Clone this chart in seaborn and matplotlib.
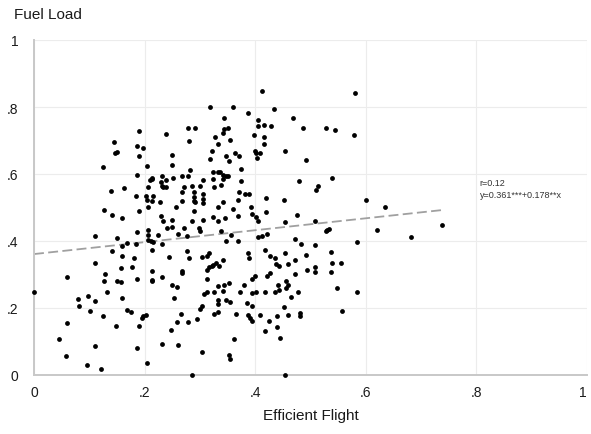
import numpy as np
import pandas as pd
import matplotlib
matplotlib.use("Agg")
import matplotlib.pyplot as plt
import seaborn as sns

# ---- data (Efficient Flight, Fuel Load) ----
ul_x = [.189,.238,.144,.186,.198,.146,.150,.189,.249,.124,.205,.249,.187,.231,.214,.209,.213,.238,.252,.229]
ul_y = [.728,.719,.696,.684,.678,.663,.666,.654,.657,.621,.624,.627,.597,.594,.588,.582,.585,.582,.588,.576]

um_x = [.412,.319,.359,.387,.434,.344,.405,.468,.279,.292,
        .344,.351,.342,.405,.416,.429,.486,.281,.328,.355,
        .398,.416,.416,.332,.321,.348,.364,.371,.400,.402,
        .409,.454,.319,.353,.404,.492,.283,.324,.333,.337,
        .342,.348,.351,.375,.267,.279,.305,.323,.342,.375,
        .479,.339]
um_y = [.848,.800,.800,.782,.794,.767,.761,.767,.737,.737,
        .734,.737,.722,.743,.746,.743,.737,.699,.710,.701,
        .716,.710,.690,.690,.669,.654,.663,.654,.669,.663,
        .663,.669,.645,.639,.648,.642,.612,.606,.606,.606,
        .597,.594,.594,.615,.594,.594,.582,.585,.585,.579,
        .579,.567]

ur_x = [.580,.528,.544,.578,.539]
ur_y = [.842,.737,.731,.716,.588]

ml_x = [.139,.162,.207,.231,.234,.238,.184,.202,.216,.205,
        .213,.227,.126,.189,.207,.141,.159,.229,.234,.240,
        .110,.150,.186,.207,.207,.225,.207,.211,.216,.169,
        .160,.184,.232,.141,.213,.159,.180,.110,.157,.177,
        .213,.232,.059,.128]
ml_y = [.549,.558,.561,.564,.561,.561,.534,.534,.534,.522,
        .519,.516,.493,.490,.501,.478,.469,.475,.460,.439,
        .415,.409,.427,.433,.418,.418,.403,.400,.397,.394,
        .385,.391,.391,.370,.373,.355,.349,.334,.319,.322,
        .310,.293,.293,.301]

mm_x = [.272,.286,.301,.326,.268,.290,.305,.371,.382,.389,
        .420,.452,.290,.290,.305,.305,.292,.267,.256,.332,
        .341,.368,.359,.393,.420,.290,.395,.368,.402,.405,
        .324,.333,.346,.476,.249,.249,.285,.305,.299,.301,
        .272,.277,.261,.339,.357,.405,.412,.422,.348,.368,
        .454,.472,.483,.454,.492,.245,.276,.281,.303,.312,
        .317,.342,.330,.335,.387,.389,.418,.427,.436,.438,
        .443,.459,.472,.494,.317,.321,.323,.312,.267,.268,
        .472,.400,.422,.427]
mm_y = [.561,.564,.564,.561,.546,.546,.540,.546,.540,.540,
        .528,.522,.531,.519,.525,.513,.516,.519,.501,.501,
        .516,.522,.496,.501,.487,.490,.481,.475,.472,.460,
        .472,.460,.469,.478,.463,.442,.460,.463,.439,.430,
        .439,.415,.421,.430,.418,.412,.415,.421,.400,.400,
        .457,.406,.391,.364,.358,.352,.370,.349,.352,.355,
        .364,.343,.334,.325,.364,.349,.373,.355,.349,.331,
        .325,.331,.343,.313,.322,.325,.328,.313,.310,.304,
        .301,.296,.296,.304]

mr_x = [.514,.510,.600,.634,.508,.528,.530,.533,.620,.737,
        .681,.584,.508,.537,.539,.555,.508,.508,.537]
mr_y = [.564,.552,.522,.501,.460,.430,.433,.436,.433,.448,
        .412,.397,.388,.367,.334,.334,.322,.307,.307]

ll_x = [.126,.150,.157,.186,.213,.214,0.0,.132,.079,.097,
        .110,.081,.101,.160,.169,.175,.124,.059,.148,.189,
        .195,.202,.198,.045,.110,.187,.232,.058,.095,.121,
        .205]
ll_y = [.281,.281,.278,.287,.281,.284,.248,.248,.227,.236,
        .221,.206,.191,.230,.194,.188,.176,.155,.146,.146,
        .170,.179,.176,.107,.087,.081,.093,.057,.030,.018,
        .036]

lm_x = [.249,.259,.254,.312,.332,.344,.353,.380,.395,.441,
        .456,.459,.456,.443,.436,.477,.465,.308,.312,.326,
        .341,.373,.395,.402,.418,.332,.332,.348,.355,.386,
        .395,.303,.301,.452,.265,.326,.332,.366,.387,.391,
        .395,.409,.425,.440,.459,.481,.481,.259,.279,.294,
        .247,.418,.440,.445,.362,.261,.303,.353,.355,.285,
        .454]
lm_y = [.269,.263,.230,.287,.266,.269,.275,.269,.287,.269,
        .281,.269,.260,.254,.248,.248,.233,.242,.248,.248,
        .251,.248,.245,.248,.248,.224,.212,.224,.218,.215,
        .206,.206,.197,.203,.182,.182,.188,.182,.179,.170,
        .161,.179,.161,.176,.179,.185,.176,.158,.158,.167,
        .134,.131,.143,.110,.107,.090,.069,.060,.048,0.0,
        0.0]

lr_x = [.548,.584,.557]
lr_y = [.260,.248,.191]

intercept = 0.361
slope = 0.178
r_value = 0.12

tick_values = [0, .2, .4, .6, .8, 1]
tick_labels = ["0", ".2", ".4", ".6", ".8", "1"]

efficient_flight = ul_x + um_x + ur_x + ml_x + mm_x + mr_x + ll_x + lm_x + lr_x
fuel_load = ul_y + um_y + ur_y + ml_y + mm_y + mr_y + ll_y + lm_y + lr_y

# ---- plotting ----
sns.set_theme(style="white")
plt.rcParams["font.family"] = ["Liberation Sans", "DejaVu Sans"]

W, H = 591, 435
fig = plt.figure(figsize=(W / 100, H / 100), dpi=100)
ax = fig.add_axes([34 / W, 1 - 376 / H, 553 / W, 335 / H])

df = pd.DataFrame({"Efficient Flight": efficient_flight, "Fuel Load": fuel_load})

ax.set_xlim(0, 1)
ax.set_ylim(0, 1)

xs = np.array([0.0, df["Efficient Flight"].max()])
ax.plot(xs, intercept + slope * xs, color="#a0a0a0", lw=1.3,
        ls=(0, (5.5, 2.4)), zorder=2)

sns.scatterplot(data=df, x="Efficient Flight", y="Fuel Load", ax=ax,
                s=12, color="black", linewidth=0, clip_on=False, zorder=3)

ax.set_xticks(tick_values)
ax.set_xticklabels(tick_labels)
ax.set_yticks(tick_values)
ax.set_yticklabels(tick_labels)
ax.tick_params(axis="both", length=0, labelsize=10, colors="#1a1a1a")
ax.tick_params(axis="x", pad=7)
ax.tick_params(axis="y", pad=11)
ax.get_xticklabels()[-1].set_horizontalalignment("right")

ax.grid(True, color="#ececec", lw=0.8)
ax.set_axisbelow(True)
for side in ["top", "right"]:
    ax.spines[side].set_visible(False)
for side in ["left", "bottom"]:
    ax.spines[side].set_color("#c8c8c8")
    ax.spines[side].set_linewidth(1.4)

ax.set_xlabel("Efficient Flight", fontsize=11, color="#1a1a1a")
ax.xaxis.set_label_coords(0.5, -0.098)
ax.set_ylabel("Fuel Load", fontsize=11, color="#1a1a1a", rotation=0,
              ha="left", va="top")
ax.yaxis.set_label_coords(-0.036, 1.098)

ax.text(0.806, 0.576, f"r={r_value:.2f}", fontsize=6.5, color="#333333",
        ha="left", va="center")
ax.text(0.806, 0.540, f"y={intercept:.3f}***+{slope:.3f}**x", fontsize=6.5,
        color="#333333", ha="left", va="center")

fig.savefig("out.png", dpi=100)
